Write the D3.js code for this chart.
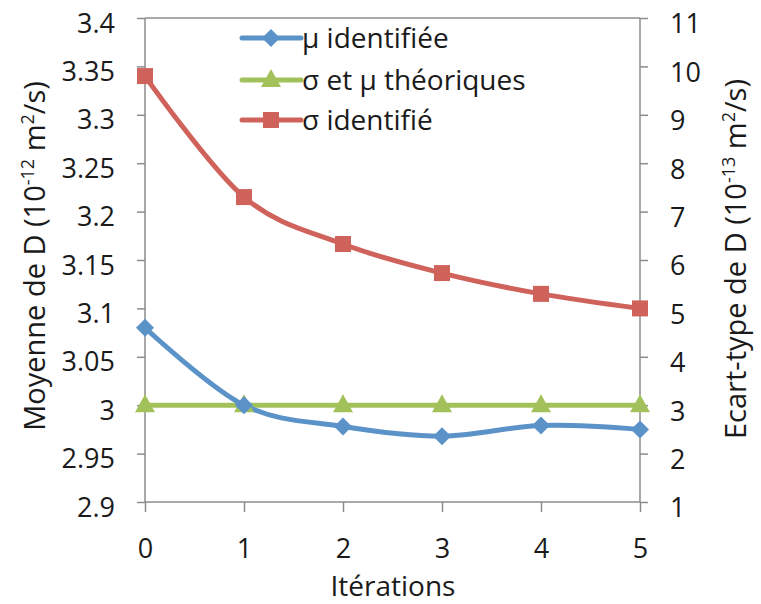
<!DOCTYPE html>
<html><head><meta charset="utf-8">
<script src="https://cdn.jsdelivr.net/npm/d3@7"></script>
<style>
body{margin:0;background:#fff;}
text{font-family:"Open Sans",Lato,sans-serif;fill:#1a1a1a;}
</style></head>
<body><svg id="c" width="761" height="604"></svg>
<script>
const iterations = [0, 1, 2, 3, 4, 5];
const muIdentified = [3.08, 3.0, 2.978, 2.968, 2.979, 2.975];
const theoretical = [3.0, 3.0, 3.0, 3.0, 3.0, 3.0];
const sigmaIdentified = [9.8, 7.3, 6.33, 5.73, 5.3, 5.0];
const leftTicks = [2.9, 2.95, 3, 3.05, 3.1, 3.15, 3.2, 3.25, 3.3, 3.35, 3.4];
const rightTicks = [1,2,3,4,5,6,7,8,9,10,11];
const legendLabels = ["μ identifiée", "σ et μ théoriques", "σ identifié"];

const svg = d3.select("#c");
const L = 145, R = 640, T = 18, B = 502;
const x = d3.scaleLinear().domain([0,5]).range([L,R]);
const yL = d3.scaleLinear().domain([2.9,3.4]).range([B,T]);
const yR = d3.scaleLinear().domain([1,11]).range([B,T]);
const axisColor = "#8c8c8c";
const fsTick = 27, fsLeg = 28, fsTitle = 29, fsSup = 18;
const ff = "'Open Sans', Lato, sans-serif";

svg.append("line").attr("x1",L).attr("x2",R).attr("y1",T).attr("y2",T).attr("stroke",axisColor).attr("stroke-width",1.5);

const gL = svg.append("g").attr("transform",`translate(${L},0)`)
  .call(d3.axisLeft(yL).tickValues(leftTicks).tickSize(8).tickPadding(22).tickFormat(d=>String(+d.toFixed(2))));
const gR = svg.append("g").attr("transform",`translate(${R},0)`)
  .call(d3.axisRight(yR).tickValues(rightTicks).tickSize(8).tickPadding(22).tickFormat(d3.format("d")));
const gX = svg.append("g").attr("transform",`translate(0,${B})`)
  .call(d3.axisBottom(x).tickValues(iterations).tickSize(10).tickPadding(27).tickFormat(d3.format("d")));
[gL,gR,gX].forEach(g=>{
  g.select(".domain").attr("stroke",axisColor).attr("stroke-width",1.5);
  g.selectAll(".tick line").attr("stroke",axisColor).attr("stroke-width",1.5);
  g.selectAll(".tick text").attr("font-size",fsTick).attr("font-family",ff).attr("fill","#1a1a1a");
});
gL.selectAll(".tick text").attr("dy","0.52em");
gR.selectAll(".tick text").attr("dy","0.55em");
gL.select(".domain").attr("d",`M0,${B}V${T}`);
gR.select(".domain").attr("d",`M0,${B}V${T}`);
gX.select(".domain").attr("d",`M${L},0H${R}`);

const blue = "#5b93c9", green = "#a2c15a", red = "#d0625c";
const curve = d3.curveCardinal.tension(0);

function series(vals, yScale, color){
  const line = d3.line().x((d,i)=>x(iterations[i])).y(d=>yScale(d)).curve(curve);
  svg.append("path").datum(vals).attr("d",line).attr("fill","none").attr("stroke",color).attr("stroke-width",5).attr("stroke-linejoin","round");
}
series(theoretical, yL, green);
series(muIdentified, yL, blue);
series(sigmaIdentified, yR, red);

function marker(g, type, cx, cy, color){
  if(type==="diamond") g.append("path").attr("d",`M${cx},${cy-9}L${cx+9},${cy}L${cx},${cy+9}L${cx-9},${cy}Z`).attr("fill",color);
  else if(type==="triangle") g.append("path").attr("d",`M${cx},${cy-11}L${cx+10},${cy+7}L${cx-10},${cy+7}Z`).attr("fill",color);
  else g.append("rect").attr("x",cx-8).attr("y",cy-8).attr("width",16).attr("height",16).attr("fill",color);
}
const mg = svg.append("g");
theoretical.forEach((v,i)=>marker(mg,"triangle",x(iterations[i]),yL(v),green));
muIdentified.forEach((v,i)=>marker(mg,"diamond",x(iterations[i]),yL(v),blue));
sigmaIdentified.forEach((v,i)=>marker(mg,"square",x(iterations[i]),yR(v),red));

const legend = [{c:blue,t:"diamond"},{c:green,t:"triangle"},{c:red,t:"square"}];
const ly = [38, 80, 120];
legend.forEach((d,i)=>{
  const g = svg.append("g");
  g.append("line").attr("x1",242).attr("x2",301).attr("y1",ly[i]).attr("y2",ly[i]).attr("stroke",d.c).attr("stroke-width",5).attr("stroke-linecap","round");
  marker(g,d.t,271,ly[i],d.c);
  g.append("text").attr("x",302).attr("y",ly[i]+10).attr("font-size",fsLeg).text(legendLabels[i]);
});

function titleWithSup(tx, ty, pre, sup, post){
  const t = svg.append("text").attr("transform",`translate(${tx},${ty}) rotate(-90)`).attr("text-anchor","middle").attr("font-size",fsTitle);
  t.append("tspan").text(pre);
  t.append("tspan").attr("font-size",fsSup).attr("dy",-11).text(sup);
  t.append("tspan").attr("dy",11).text(" m");
  t.append("tspan").attr("font-size",fsSup).attr("dy",-11).text("2");
  t.append("tspan").attr("dy",11).text(post);
}
titleWithSup(45, 256, "Moyenne  de D (10", "-12", "/s)");
titleWithSup(746, 259, "Ecart-type de D (10", "-13", "/s)");
svg.append("text").attr("x",393).attr("y",596).attr("text-anchor","middle").attr("font-size",fsLeg).text("Itérations");
</script></body></html>
